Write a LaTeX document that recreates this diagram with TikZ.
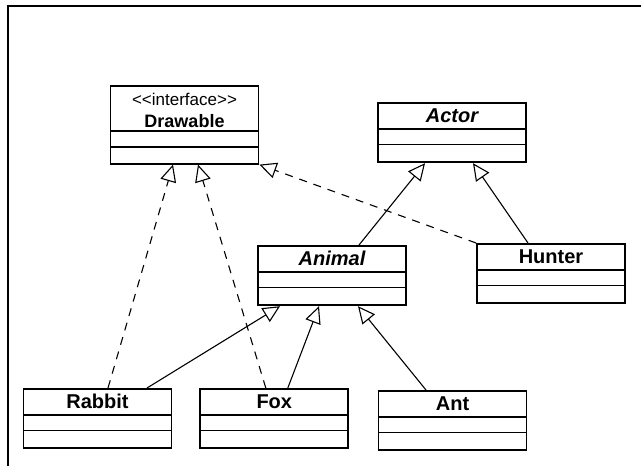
\documentclass[tikz,border=0pt]{standalone}
\usepackage{fontspec}
\newfontfamily\umlfont{Liberation Sans}
\usetikzlibrary{positioning}
\usetikzlibrary{arrows.meta}
\usetikzlibrary{shapes.multipart}
\tikzset{classbox/.style={draw,line width=0.9pt,rectangle split,rectangle split parts=3,text width=74pt,align=center,inner xsep=0pt,inner ysep=0pt,font=\umlfont\bfseries\fontsize{10}{12}\selectfont,anchor=north}}
\tikzset{inherit/.style={draw,line width=0.55pt,-{Triangle[open,length=8.5pt,width=8pt]}}}
\tikzset{implement/.style={inherit,dash pattern=on 4pt off 3.5pt}}
\newcommand{\classparts}[1]{\rule[-2.6pt]{0pt}{12pt}#1\nodepart{two}\rule{0pt}{7pt}\nodepart{three}\rule{0pt}{8pt}}

\begin{document}
\begin{tikzpicture}[x=0.5pt,y=-0.5pt]
        \useasboundingbox (0,0) rectangle (641,466);
        \draw[line width=0.8pt] (8,466) -- (8,6) -- (641,6);
        \node[classbox,font=\umlfont\bfseries\fontsize{9}{11}\selectfont] (drawable) at (184.5,85)
            {{\fontsize{8.5}{10}\selectfont\mdseries\rule{0pt}{9.5pt}<<interface>>}\\\rule[-1.2pt]{0pt}{0pt}Drawable%
            \nodepart{two}\rule{0pt}{7pt}\nodepart{three}\rule{0pt}{7.5pt}};
        \node[classbox] (actor) at (452,102) {\classparts{\itshape Actor}};
        \node[classbox] (animal) at (332,245) {\classparts{\itshape Animal}};
        \node[classbox] (hunter) at (551,243) {\classparts{Hunter}};
        \node[classbox] (rabbit) at (97.5,388) {\classparts{Rabbit}};
        \node[classbox,right=13.5pt of rabbit] (fox) {\classparts{Fox}};
        \node[classbox] (ant) at (452.5,390) {\classparts{Ant}};
            \path[implement] ([xshift=5.25pt]rabbit.north) -- ([xshift=-5.75pt]drawable.south);
            \path[implement] ([xshift=-4.25pt]fox.north) -- ([xshift=6.75pt]drawable.south);
            \path[implement] (hunter.north west) -- (drawable.south east);
            \path[inherit] ([xshift=13.5pt]animal.north) -- ([xshift=-13.5pt]actor.south);
            \path[inherit] ([xshift=-11.5pt]hunter.north) -- ([xshift=10.5pt]actor.south);
            \path[inherit] ([xshift=24.75pt]rabbit.north) -- ([xshift=-26pt]animal.south);
            \path[inherit] ([xshift=6.75pt]fox.north) -- ([xshift=-6.5pt]animal.south);
            \path[inherit] ([xshift=-13.25pt]ant.north) -- ([xshift=13pt]animal.south);
    \end{tikzpicture}
\end{document}
